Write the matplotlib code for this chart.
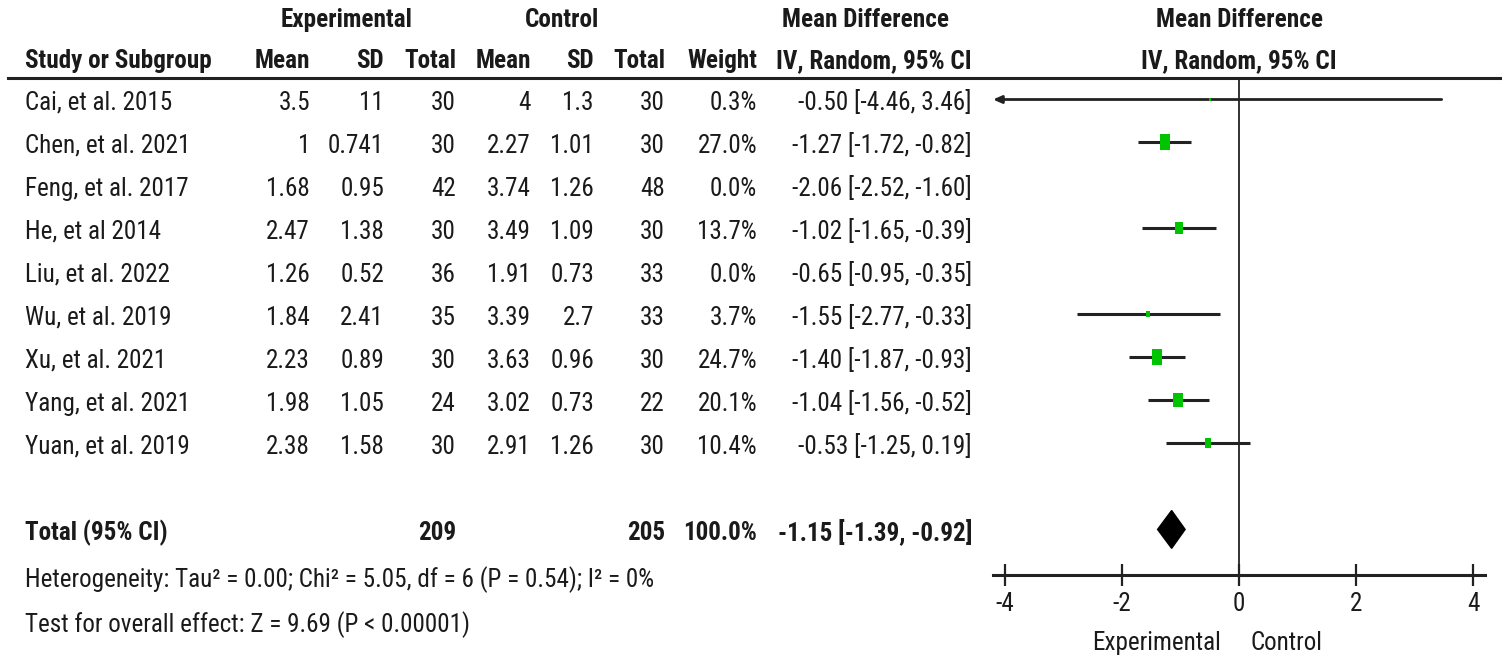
import numpy as np
import matplotlib
matplotlib.use("Agg")
import matplotlib.pyplot as plt
import matplotlib.transforms as mtransforms
from matplotlib import font_manager as fm
from matplotlib.path import Path
from matplotlib.lines import Line2D

# study data
studies = ["Cai, et al. 2015", "Chen, et al. 2021", "Feng, et al. 2017", "He, et al 2014",
           "Liu, et al. 2022", "Wu, et al. 2019", "Xu, et al. 2021", "Yang, et al. 2021",
           "Yuan, et al. 2019"]
exp_mean = [3.5, 1, 1.68, 2.47, 1.26, 1.84, 2.23, 1.98, 2.38]
exp_sd = [11, 0.741, 0.95, 1.38, 0.52, 2.41, 0.89, 1.05, 1.58]
exp_n = [30, 30, 42, 30, 36, 35, 30, 24, 30]
ctl_mean = [4, 2.27, 3.74, 3.49, 1.91, 3.39, 3.63, 3.02, 2.91]
ctl_sd = [1.3, 1.01, 1.26, 1.09, 0.73, 2.7, 0.96, 0.73, 1.26]
ctl_n = [30, 30, 48, 30, 33, 33, 30, 22, 30]
weight = [0.3, 27.0, 0.0, 13.7, 0.0, 3.7, 24.7, 20.1, 10.4]
md = [-0.50, -1.27, -2.06, -1.02, -0.65, -1.55, -1.40, -1.04, -0.53]
ci_lo = [-4.46, -1.72, -2.52, -1.65, -0.95, -2.77, -1.87, -1.56, -1.25]
ci_hi = [3.46, -0.82, -1.60, -0.39, -0.35, -0.33, -0.93, -0.52, 0.19]

total_exp_n = 209
total_ctl_n = 205
total_weight = 100.0
total_md = -1.15
total_lo = -1.39
total_hi = -0.92

het_text = "Heterogeneity: Tau² = 0.00; Chi² = 5.05, df = 6 (P = 0.54); I² = 0%"
test_text = "Test for overall effect: Z = 9.69 (P < 0.00001)"
xticks = [-4, -2, 0, 2, 4]


# the original uses a narrow Arial; take a condensed face if one is installed
def pick_font():
    fl = fm.fontManager.ttflist
    names = {f.name for f in fl}
    for n in ['Liberation Sans Narrow', 'Arial Narrow', 'Roboto Condensed',
              'Noto Sans Condensed', 'Open Sans Condensed']:
        if n in names:
            return n, 'normal'
    for n in ['Liberation Sans', 'Noto Sans', 'DejaVu Sans', 'Open Sans', 'Roboto']:
        if any(f.name == n and f.stretch == 'condensed' for f in fl):
            return n, 'condensed'
    return 'Liberation Sans', 'normal'

FAMILY, STRETCH = pick_font()
plt.rcParams['font.family'] = [FAMILY, 'DejaVu Sans']
plt.rcParams['font.stretch'] = STRETCH

W, H = 1510, 665
def fx(px):
    return px / W
def fy(py):
    return 1 - py / H

TXT = '#1a1a1a'
LINE = '#222222'
GREEN = '#00c400'

fig = plt.figure(figsize=(W / 100, H / 100), dpi=100)

# size the text so a study name is as wide as in the original (~147 px)
probe = fig.text(0, 0, "Cai, et al. 2015", fontsize=20)
pw = probe.get_window_extent(fig.canvas.get_renderer()).width
probe.remove()
FS = min(19.0, 20 * 147 / pw)

ax = fig.add_axes([fx(993), fy(575), (1485 - 993) / W, (575 - 78) / H])

rows = np.arange(len(studies))
total_row = 10
ax.set_xlim(-4.2, 4.2)
ax.set_ylim(11.06, -0.5)

# text positioned in figure x, row y
tr = mtransforms.blended_transform_factory(fig.transFigure, ax.transData)
dy = 0.08

def cell(px, row, s, ha='right', bold=False):
    ax.text(fx(px), row + dy, s, transform=tr, ha=ha, va='center', fontsize=FS,
            color=TXT, fontweight='bold' if bold else 'normal', clip_on=False)

def g(v):
    return f"{v:g}"

for i, r in enumerate(rows):
    cell(25, r, studies[i], ha='left')
    cell(310, r, g(exp_mean[i]))
    cell(384, r, g(exp_sd[i]))
    cell(456, r, str(exp_n[i]))
    cell(531, r, g(ctl_mean[i]))
    cell(594, r, g(ctl_sd[i]))
    cell(665, r, str(ctl_n[i]))
    cell(757, r, f"{weight[i]:.1f}%")
    cell(972, r, f"{md[i]:.2f} [{ci_lo[i]:.2f}, {ci_hi[i]:.2f}]")

cell(25, total_row, "Total (95% CI)", ha='left', bold=True)
cell(456, total_row, str(total_exp_n), bold=True)
cell(665, total_row, str(total_ctl_n), bold=True)
cell(757, total_row, f"{total_weight:.1f}%", bold=True)
cell(972, total_row, f"{total_md:.2f} [{total_lo:.2f}, {total_hi:.2f}]", bold=True)

fig.text(fx(25), fy(580), het_text, ha='left', va='center', fontsize=FS, color=TXT)
fig.text(fx(25), fy(625), test_text, ha='left', va='center', fontsize=FS, color=TXT)

# headers
hdr = dict(va='center', fontsize=FS, color=TXT, fontweight='bold')
fig.text(fx(347), fy(20), "Experimental", ha='center', **hdr)
fig.text(fx(562), fy(20), "Control", ha='center', **hdr)
fig.text(fx(866), fy(20), "Mean Difference", ha='center', **hdr)
fig.text(fx(1239), fy(20), "Mean Difference", ha='center', **hdr)
fig.text(fx(25), fy(61), "Study or Subgroup", ha='left', **hdr)
fig.text(fx(310), fy(61), "Mean", ha='right', **hdr)
fig.text(fx(384), fy(61), "SD", ha='right', **hdr)
fig.text(fx(456), fy(61), "Total", ha='right', **hdr)
fig.text(fx(531), fy(61), "Mean", ha='right', **hdr)
fig.text(fx(594), fy(61), "SD", ha='right', **hdr)
fig.text(fx(665), fy(61), "Total", ha='right', **hdr)
fig.text(fx(757), fy(61), "Weight", ha='right', **hdr)
fig.text(fx(972), fy(61), "IV, Random, 95% CI", ha='right', **hdr)
fig.text(fx(1239), fy(61), "IV, Random, 95% CI", ha='center', **hdr)

fig.add_artist(Line2D([fx(8), fx(1500)], [fy(78), fy(78)], transform=fig.transFigure,
                      color=LINE, lw=2.2))

# forest plot
ax.axvline(0, color='#333333', lw=1.4, zorder=1)
rect = Path([(-0.34, -0.5), (0.34, -0.5), (0.34, 0.5), (-0.34, 0.5), (-0.34, -0.5)],
            [Path.MOVETO, Path.LINETO, Path.LINETO, Path.LINETO, Path.CLOSEPOLY])
x_left = ax.get_xlim()[0]
for i, r in enumerate(rows):
    if weight[i] <= 0:
        continue
    if ci_lo[i] < x_left:
        ax.annotate("", xy=(x_left, r), xytext=(ci_hi[i], r),
                    arrowprops=dict(arrowstyle='-|>,head_length=0.5,head_width=0.22',
                                    lw=2.0, color=LINE, shrinkA=0, shrinkB=0),
                    annotation_clip=False)
    else:
        ax.plot([ci_lo[i], ci_hi[i]], [r, r], color=LINE, lw=2.2, solid_capstyle='butt', zorder=2)
    hpx = max(3.1 * np.sqrt(weight[i]), 3.0)
    ax.plot([md[i]], [r], marker=rect, markersize=hpx * 0.72, color=GREEN,
            markeredgewidth=0, linestyle='none', zorder=3)

ax.fill([total_lo, total_md, total_hi, total_md],
        [total_row, total_row - 0.44, total_row, total_row + 0.44], color='black', zorder=3)

for s in ['top', 'left', 'right']:
    ax.spines[s].set_visible(False)
ax.spines['bottom'].set_color(LINE)
ax.spines['bottom'].set_linewidth(2.2)
ax.set_yticks([])
ax.set_xticks(xticks)
ax.set_xticklabels([str(t) for t in xticks])
ax.tick_params(axis='x', direction='inout', length=16, width=1.6, color=LINE,
               labelsize=FS, labelcolor=TXT, pad=4)
ax.patch.set_alpha(0)

trb = mtransforms.blended_transform_factory(ax.transData, fig.transFigure)
ax.text(-0.3, fy(643), "Experimental", transform=trb, ha='right', va='center',
        fontsize=FS, color=TXT, clip_on=False)
ax.text(0.2, fy(643), "Control", transform=trb, ha='left', va='center',
        fontsize=FS, color=TXT, clip_on=False)

fig.savefig("out.png", dpi=100)
